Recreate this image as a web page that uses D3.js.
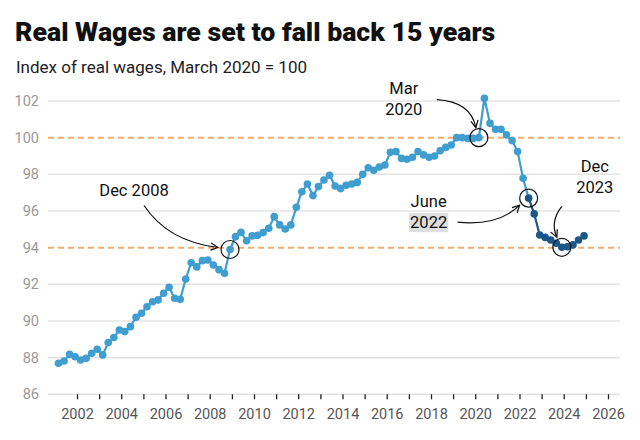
<!DOCTYPE html>
<html>
<head>
<meta charset="utf-8">
<script src="https://cdn.jsdelivr.net/npm/d3@7"></script>
<style>
  html, body { margin: 0; padding: 0; background: #fff; }
  svg { display: block; font-family: Roboto, "Noto Sans", sans-serif; }
</style>
</head>
<body>
<svg id="chart" width="640" height="440"></svg>
<script>
// ---- data ----
const title = "Real Wages are set to fall back 15 years";
const subtitle = "Index of real wages, March 2020 = 100";
// quarterly: Mar 2001 ... Dec 2024
const values = [
  87.69, 87.82, 88.18, 88.05, 87.87, 87.96, 88.24, 88.46,
  88.15, 88.82, 89.10, 89.51, 89.42, 89.69, 90.20, 90.42,
  90.78, 91.05, 91.15, 91.51, 91.84, 91.24, 91.18, 92.29,
  93.18, 92.95, 93.29, 93.33, 93.05, 92.80, 92.60, 93.90,
  94.60, 94.84, 94.38, 94.64, 94.67, 94.82, 95.06, 95.69,
  95.24, 95.02, 95.24, 96.20, 97.05, 97.47, 96.84, 97.33,
  97.69, 97.95, 97.36, 97.22, 97.40, 97.47, 97.56, 98.00,
  98.36, 98.22, 98.40, 98.51, 99.20, 99.24, 98.87, 98.82,
  98.93, 99.24, 99.06, 98.93, 99.00, 99.29, 99.47, 99.60,
  100.00, 100.00, 99.96, 99.96, 100.00, 102.15, 100.78, 100.46,
  100.46, 100.15, 99.84, 99.24, 97.78, 96.70, 95.84, 94.69,
  94.56, 94.42, 94.24, 94.02, 94.05, 94.15, 94.42, 94.64
];
const dates = d3.timeMonth.range(new Date(2001, 2, 1), new Date(2025, 0, 1), 3);
const yTicks = [86, 88, 90, 92, 94, 96, 98, 100, 102];
const refLines = [100, 94];
const xTickYears = d3.range(2002, 2027);
const darkFrom = "2022-06"; // recent segment start
const annotations = [
  { when: "2008-12", lines: ["Dec 2008"] },
  { when: "2020-03", lines: ["Mar", "2020"] },
  { when: "2022-06", lines: ["June", "2022"] },
  { when: "2023-12", lines: ["Dec", "2023"] }
];

// ---- layout ----
const svg = d3.select("#chart");
const gridX0 = 48, gridX1 = 620;
const x = d3.scaleTime().domain([new Date(2002, 0, 1), new Date(2026, 0, 1)]).range([77, 608]);
const y = d3.scaleLinear().domain([86, 102]).range([394.3, 101]);
const light = "#3f9dd0", dark = "#1b5789";

const data = dates.map((d, i) => ({ date: d, value: values[i], key: d3.timeFormat("%Y-%m")(d) }));
const darkIdx = data.findIndex(d => d.key === darkFrom);

svg.append("text").attr("x", 15).attr("y", 41)
  .attr("font-size", 26.7).attr("font-weight", 900).attr("fill", "#111").text(title);
svg.append("text").attr("x", 16).attr("y", 73)
  .attr("font-size", 17).attr("fill", "#222").text(subtitle);

// grid
const grid = svg.append("g");
grid.selectAll("line").data(yTicks.filter(t => !refLines.includes(t))).join("line")
  .attr("x1", gridX0).attr("x2", gridX1)
  .attr("y1", d => y(d)).attr("y2", d => y(d))
  .attr("stroke", "#e3e3e3").attr("stroke-width", 1.5);
grid.selectAll("text").data(yTicks).join("text")
  .attr("x", 39).attr("y", d => y(d)).attr("dy", "0.35em")
  .attr("text-anchor", "end").attr("font-size", 14.5).attr("fill", "#999").text(d => d);

svg.append("g").selectAll("line").data(refLines).join("line")
  .attr("x1", gridX0).attr("x2", gridX1)
  .attr("y1", d => y(d)).attr("y2", d => y(d))
  .attr("stroke", "#f2ac6b").attr("stroke-width", 2).attr("stroke-dasharray", "6,4");

// x axis
const xa = svg.append("g").attr("transform", `translate(0,${y(86)})`)
  .call(d3.axisBottom(x).tickValues(xTickYears.map(yr => new Date(yr, 0, 1)))
    .tickSize(5).tickPadding(9)
    .tickFormat(d => d.getFullYear() % 2 === 0 ? d.getFullYear() : ""));
xa.select(".domain").remove();
xa.selectAll(".tick line").attr("stroke", "#222").attr("stroke-width", 1.3);
xa.selectAll(".tick text").attr("font-size", 14.5).attr("fill", "#555").attr("font-family", "Roboto");

// lines
const line = d3.line().x(d => x(d.date)).y(d => y(d.value));
svg.append("path").datum(data.slice(0, darkIdx + 1)).attr("d", line)
  .attr("fill", "none").attr("stroke", light).attr("stroke-width", 2.2);
svg.append("path").datum(data.slice(darkIdx)).attr("d", line)
  .attr("fill", "none").attr("stroke", dark).attr("stroke-width", 2.2);
svg.append("g").selectAll("circle").data(data).join("circle")
  .attr("cx", d => x(d.date)).attr("cy", d => y(d.value)).attr("r", 3.8)
  .attr("fill", (d, i) => i >= darkIdx ? dark : light);

// annotations
const defs = svg.append("defs");
defs.append("marker").attr("id", "arr").attr("viewBox", "0 0 10 10")
  .attr("refX", 9).attr("refY", 5).attr("markerWidth", 9).attr("markerHeight", 9)
  .attr("markerUnits", "userSpaceOnUse").attr("orient", "auto")
  .append("path").attr("d", "M1,1 L9,5 L1,9").attr("fill", "none")
  .attr("stroke", "#111").attr("stroke-width", 1.4);

const ann = svg.append("g");
// text placement relative to the annotated point, arrow start/control/end offsets
const annLayout = {
  "2008-12": { tx: -96, ty: -53, box: false, arrow: [[-86, -44], [-62, -8], [-12, -2]] },
  "2020-03": { tx: -75, ty: -44, box: false, arrow: [[-42, -38], [-8, -36], [-3, -10]] },
  "2022-06": { tx: -100, ty: 9, box: true, arrow: [[-71, 24], [-30, 28], [-9, 7]] },
  "2023-12": { tx: 33, ty: -75, box: false, arrow: [[0, -41], [-12, -26], [-5, -10]] }
};
annotations.forEach(a => {
  const d = data.find(p => p.key === a.when);
  const px = x(d.date), py = y(d.value);
  const L = annLayout[a.when];
  ann.append("circle").attr("cx", px).attr("cy", py).attr("r", 9)
    .attr("fill", "none").attr("stroke", "#111").attr("stroke-width", 1.2);
  a.lines.forEach((t, i) => {
    const tx = px + L.tx, ty = py + L.ty + i * 21;
    const txt = ann.append("text").attr("x", tx).attr("y", ty)
      .attr("text-anchor", "middle").attr("font-size", 16.5).attr("fill", "#111").text(t);
    if (L.box && i === 1) {
      const bb = txt.node().getBBox();
      ann.insert("rect", () => txt.node()).attr("x", bb.x - 1).attr("y", bb.y)
        .attr("width", bb.width + 2).attr("height", bb.height).attr("fill", "#dedede");
    }
  });
  const [s, c, e] = L.arrow;
  ann.append("path")
    .attr("d", `M${px + s[0]},${py + s[1]} Q${px + c[0]},${py + c[1]} ${px + e[0]},${py + e[1]}`)
    .attr("fill", "none").attr("stroke", "#111").attr("stroke-width", 1.2)
    .attr("marker-end", "url(#arr)");
});
</script>
</body>
</html>
